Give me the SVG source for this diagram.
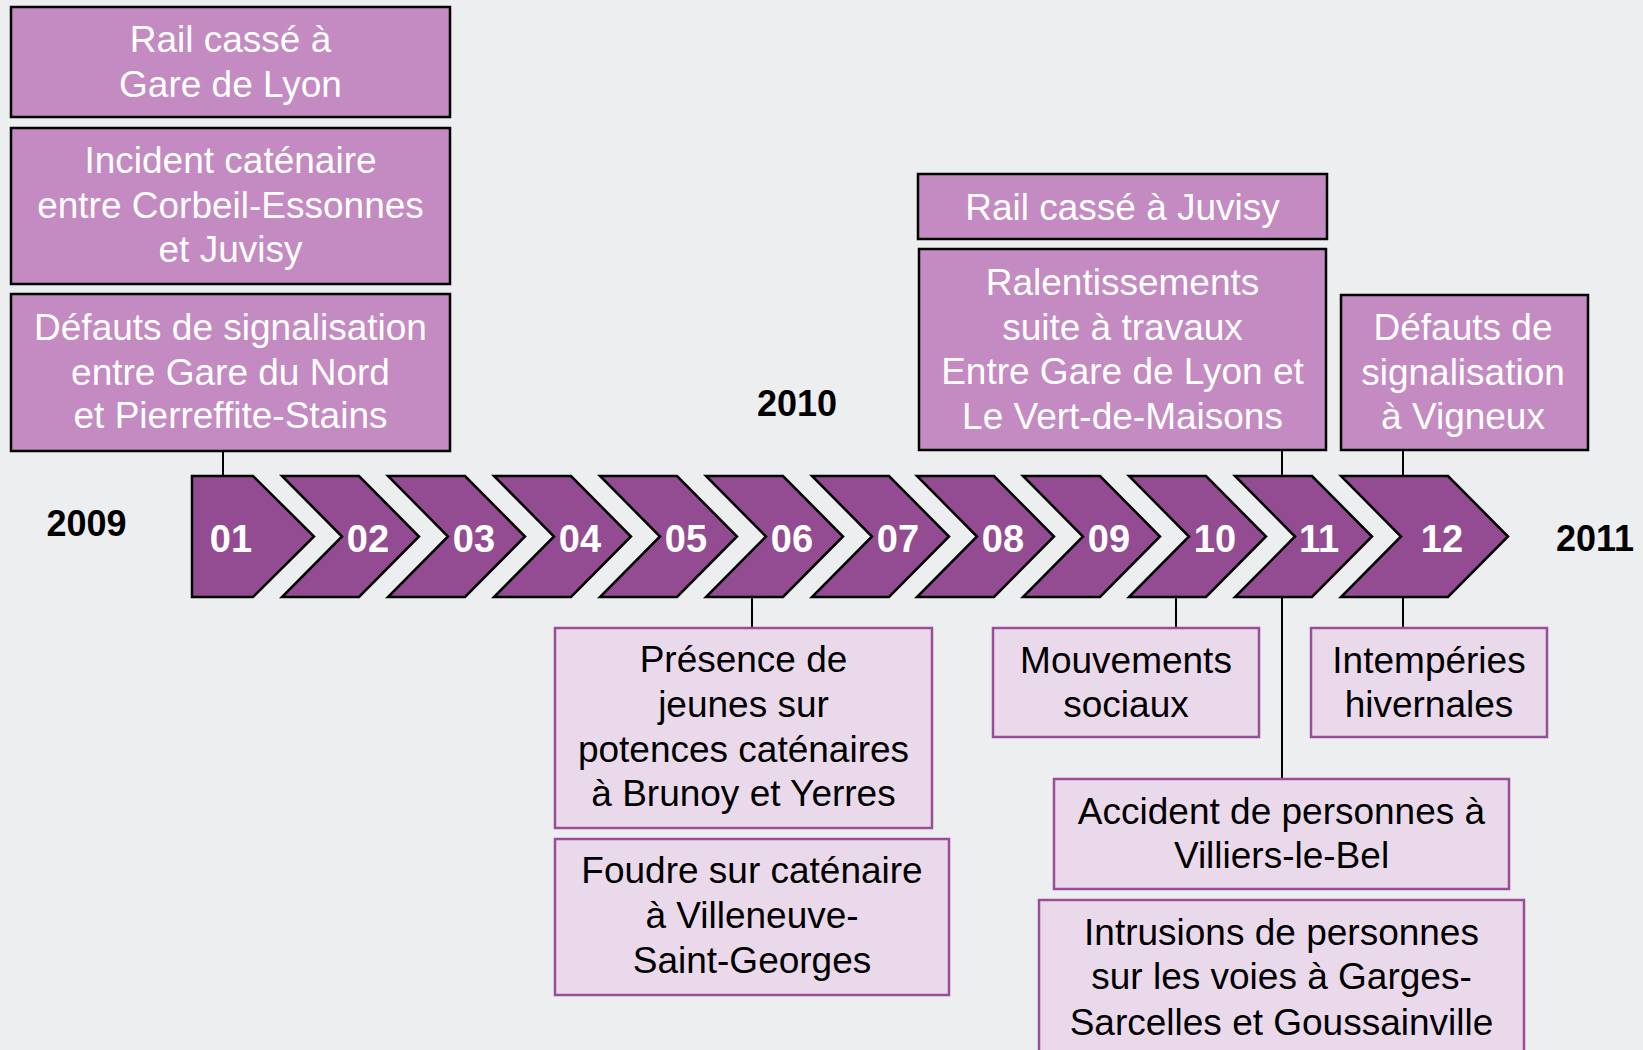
<svg xmlns="http://www.w3.org/2000/svg" width="1643" height="1050" viewBox="0 0 1643 1050">
<style>
.bg{fill:#EDEEF0}
.chev{fill:#934C92;stroke:#000;stroke-width:2.5;stroke-linejoin:miter}
.num{font-family:"Liberation Sans",Arial,sans-serif;font-weight:bold;font-size:38px;fill:#fff;text-anchor:middle}
.year{font-family:"Liberation Sans",Arial,sans-serif;font-weight:bold;font-size:36px;fill:#000;text-anchor:middle}
.top{fill:#C48BC2;stroke:#000;stroke-width:2.5}
.bot{fill:#EAD9EA;stroke:#9A4E98;stroke-width:2.5}
.tw{font-family:"Liberation Sans",Arial,sans-serif;font-size:37px;fill:#fff;text-anchor:middle}
.tb{font-family:"Liberation Sans",Arial,sans-serif;font-size:37px;fill:#000;text-anchor:middle}
.conn line{stroke:#000;stroke-width:2}
</style>
<rect class="bg" x="0" y="0" width="1643" height="1050"/>

<g id="connectors" class="conn">
<line x1="223" y1="451" x2="223" y2="476"/>
<line x1="1282" y1="450" x2="1282" y2="476"/>
<line x1="1403" y1="450" x2="1403" y2="476"/>
<line x1="752" y1="597" x2="752" y2="628"/>
<line x1="1176" y1="597" x2="1176" y2="628"/>
<line x1="1282" y1="597" x2="1282" y2="779"/>
<line x1="1403" y1="597" x2="1403" y2="628"/>
</g>

<g id="timeline">
<g id="m01"><polygon class="chev" points="192,476 253,476 314,536.5 253,597 192,597"/><text class="num" x="231" y="552">01</text></g>
<g id="m02"><polygon class="chev" points="282,476 359,476 419,536.5 359,597 282,597 342,536.5"/><text class="num" x="368" y="552">02</text></g>
<g id="m03"><polygon class="chev" points="388,476 465,476 525,536.5 465,597 388,597 448,536.5"/><text class="num" x="474" y="552">03</text></g>
<g id="m04"><polygon class="chev" points="494,476 571,476 631,536.5 571,597 494,597 554,536.5"/><text class="num" x="580" y="552">04</text></g>
<g id="m05"><polygon class="chev" points="600,476 677,476 737,536.5 677,597 600,597 660,536.5"/><text class="num" x="686" y="552">05</text></g>
<g id="m06"><polygon class="chev" points="706,476 783,476 843,536.5 783,597 706,597 766,536.5"/><text class="num" x="792" y="552">06</text></g>
<g id="m07"><polygon class="chev" points="812,476 889,476 949,536.5 889,597 812,597 872,536.5"/><text class="num" x="898" y="552">07</text></g>
<g id="m08"><polygon class="chev" points="917,476 994,476 1054,536.5 994,597 917,597 977,536.5"/><text class="num" x="1003" y="552">08</text></g>
<g id="m09"><polygon class="chev" points="1023,476 1100,476 1160,536.5 1100,597 1023,597 1083,536.5"/><text class="num" x="1109" y="552">09</text></g>
<g id="m10"><polygon class="chev" points="1129,476 1206,476 1266,536.5 1206,597 1129,597 1189,536.5"/><text class="num" x="1215" y="552">10</text></g>
<g id="m11"><polygon class="chev" points="1235,476 1312,476 1372,536.5 1312,597 1235,597 1295,536.5"/><text class="num" x="1319" y="552">11</text></g>
<g id="m12"><polygon class="chev" points="1341,476 1448,476 1508,536.5 1448,597 1341,597 1401,536.5"/><text class="num" x="1442" y="552">12</text></g>
</g>

<g id="y2009"><text class="year" x="86.5" y="536">2009</text></g>
<g id="y2010"><text class="year" x="797" y="416">2010</text></g>
<g id="y2011"><text class="year" x="1595" y="551">2011</text></g>

<g id="n-rail-lyon"><rect class="top" x="11" y="7" width="439" height="110"/>
<text class="tw" x="230.5" y="52">Rail cassé à</text><text class="tw" x="230.5" y="97">Gare de Lyon</text></g>
<g id="n-incident"><rect class="top" x="11" y="128" width="439" height="156"/>
<text class="tw" x="230.5" y="173">Incident caténaire</text><text class="tw" x="230.5" y="218">entre Corbeil-Essonnes</text><text class="tw" x="230.5" y="262">et Juvisy</text></g>
<g id="n-defauts-nord"><rect class="top" x="11" y="294" width="439" height="157"/>
<text class="tw" x="230.5" y="340">Défauts de signalisation</text><text class="tw" x="230.5" y="385">entre Gare du Nord</text><text class="tw" x="230.5" y="428">et Pierreffite-Stains</text></g>

<g id="n-rail-juvisy"><rect class="top" x="918" y="174" width="409" height="65"/>
<text class="tw" x="1122.5" y="220">Rail cassé à Juvisy</text></g>
<g id="n-ralent"><rect class="top" x="919" y="249" width="407" height="201"/>
<text class="tw" x="1122.5" y="295">Ralentissements</text><text class="tw" x="1122.5" y="340">suite à travaux</text><text class="tw" x="1122.5" y="384">Entre Gare de Lyon et</text><text class="tw" x="1122.5" y="429">Le Vert-de-Maisons</text></g>
<g id="n-vigneux"><rect class="top" x="1341" y="295" width="247" height="155"/>
<text class="tw" x="1463" y="340">Défauts de</text><text class="tw" x="1463" y="385">signalisation</text><text class="tw" x="1463" y="429">à Vigneux</text></g>

<g id="n-presence"><rect class="bot" x="555" y="628" width="377" height="200"/>
<text class="tb" x="743.5" y="672">Présence de</text><text class="tb" x="743.5" y="717">jeunes sur</text><text class="tb" x="743.5" y="762">potences caténaires</text><text class="tb" x="743.5" y="806">à Brunoy et Yerres</text></g>
<g id="n-foudre"><rect class="bot" x="555" y="839" width="394" height="156"/>
<text class="tb" x="752" y="883">Foudre sur caténaire</text><text class="tb" x="752" y="928">à Villeneuve-</text><text class="tb" x="752" y="973">Saint-Georges</text></g>
<g id="n-mouvements"><rect class="bot" x="993" y="628" width="266" height="109"/>
<text class="tb" x="1126" y="673">Mouvements</text><text class="tb" x="1126" y="717">sociaux</text></g>
<g id="n-intemperies"><rect class="bot" x="1311" y="628" width="236" height="109"/>
<text class="tb" x="1429" y="673">Intempéries</text><text class="tb" x="1429" y="717">hivernales</text></g>
<g id="n-accident"><rect class="bot" x="1054" y="779" width="455" height="110"/>
<text class="tb" x="1281.5" y="824">Accident de personnes à</text><text class="tb" x="1281.5" y="868">Villiers-le-Bel</text></g>
<g id="n-intrusions"><rect class="bot" x="1039" y="900" width="485" height="165"/>
<text class="tb" x="1281.5" y="945">Intrusions de personnes</text><text class="tb" x="1281.5" y="989">sur les voies à Garges-</text><text class="tb" x="1281.5" y="1035">Sarcelles et Goussainville</text></g>
</svg>
